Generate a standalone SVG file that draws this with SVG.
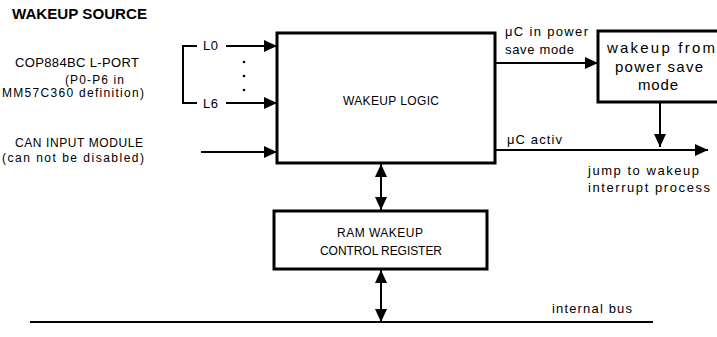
<svg xmlns="http://www.w3.org/2000/svg" width="717" height="337" viewBox="0 0 717 337">
<style>
.box{fill:#fff;stroke:#000;stroke-width:3}
.ln{fill:none;stroke:#000;stroke-width:2}
.t{font-family:"Liberation Sans",Arial,sans-serif;font-size:13px;fill:#000}
.c{font-size:12px}
.s{font-size:12px}
.b{font-size:15px}
.h{font-family:"Liberation Sans",Arial,sans-serif;font-size:14.5px;font-weight:bold;fill:#000}
</style>
<defs>
<marker id="ah" markerUnits="userSpaceOnUse" markerWidth="14" markerHeight="12" refX="13" refY="6" orient="auto-start-reverse">
<path d="M0,0 L13,6 L0,12 Z" fill="#000"/>
</marker>
</defs>
<rect width="717" height="337" fill="#fff"/>
<text class="h" x="12" y="19" textLength="135" lengthAdjust="spacingAndGlyphs">WAKEUP SOURCE</text>
<g id="sources">
<text class="t" x="15" y="67" textLength="124" lengthAdjust="spacing">COP884BC L-PORT</text>
<text class="t s" x="65" y="84" textLength="59" lengthAdjust="spacing">(P0-P6 in</text>
<text class="t s" x="2" y="97" textLength="142" lengthAdjust="spacing">MM57C360 definition)</text>
<text class="t c" x="15" y="147" textLength="128" lengthAdjust="spacing">CAN INPUT MODULE</text>
<text class="t s" x="2" y="162" textLength="142" lengthAdjust="spacing">(can not be disabled)</text>
<text class="t" x="203" y="50" textLength="15" lengthAdjust="spacing">L0</text>
<text class="t" x="203" y="108" textLength="15" lengthAdjust="spacing">L6</text>
<circle cx="244" cy="62" r="1.3"/>
<circle cx="244" cy="76" r="1.3"/>
<circle cx="244" cy="90" r="1.3"/>
</g>
<g id="wakeup-logic">
<rect class="box" x="277" y="33" width="218" height="130"/>
<text class="t c" x="343" y="105" textLength="96" lengthAdjust="spacing">WAKEUP LOGIC</text>
</g>
<g id="wakeup-from">
<rect class="box" x="598" y="31" width="130" height="71"/>
<text class="t b" x="607" y="53" textLength="108" lengthAdjust="spacing">wakeup from</text>
<text class="t b" x="615" y="72" textLength="88" lengthAdjust="spacing">power save</text>
<text class="t b" x="638" y="90" textLength="40" lengthAdjust="spacing">mode</text>
</g>
<g id="ram-register">
<rect class="box" x="274" y="211" width="213" height="58"/>
<text class="t c" x="337" y="237" textLength="86" lengthAdjust="spacing">RAM WAKEUP</text>
<text class="t c" x="320" y="255" textLength="122" lengthAdjust="spacing">CONTROL REGISTER</text>
</g>
<g id="labels">
<text class="t" x="505" y="36" textLength="83" lengthAdjust="spacing">μC in power</text>
<text class="t" x="505" y="54" textLength="69" lengthAdjust="spacing">save mode</text>
<text class="t" x="507" y="144" textLength="55" lengthAdjust="spacing">μC activ</text>
<text class="t" x="588" y="175" textLength="111" lengthAdjust="spacing">jump to wakeup</text>
<text class="t" x="588" y="192" textLength="122" lengthAdjust="spacing">interrupt process</text>
<text class="t" x="552" y="313" textLength="80" lengthAdjust="spacing">internal bus</text>
</g>
<g id="connectors">
<path class="ln" d="M197,46 H183 V103 H197"/>
<line class="ln" x1="226" y1="46" x2="277" y2="46" marker-end="url(#ah)"/>
<line class="ln" x1="226" y1="103" x2="277" y2="103" marker-end="url(#ah)"/>
<line class="ln" x1="201" y1="152" x2="277" y2="152" marker-end="url(#ah)"/>
<line class="ln" x1="495" y1="63" x2="598" y2="63" marker-end="url(#ah)"/>
<line class="ln" x1="495" y1="150" x2="708" y2="150" marker-end="url(#ah)"/>
<line class="ln" x1="660" y1="102" x2="660" y2="147" marker-end="url(#ah)"/>
<line class="ln" x1="381" y1="164" x2="381" y2="210" marker-start="url(#ah)" marker-end="url(#ah)"/>
<line class="ln" x1="381" y1="270" x2="381" y2="322" marker-start="url(#ah)" marker-end="url(#ah)"/>
<line class="ln" x1="30" y1="322" x2="653" y2="322" stroke-width="1.6"/>
</g>
</svg>
